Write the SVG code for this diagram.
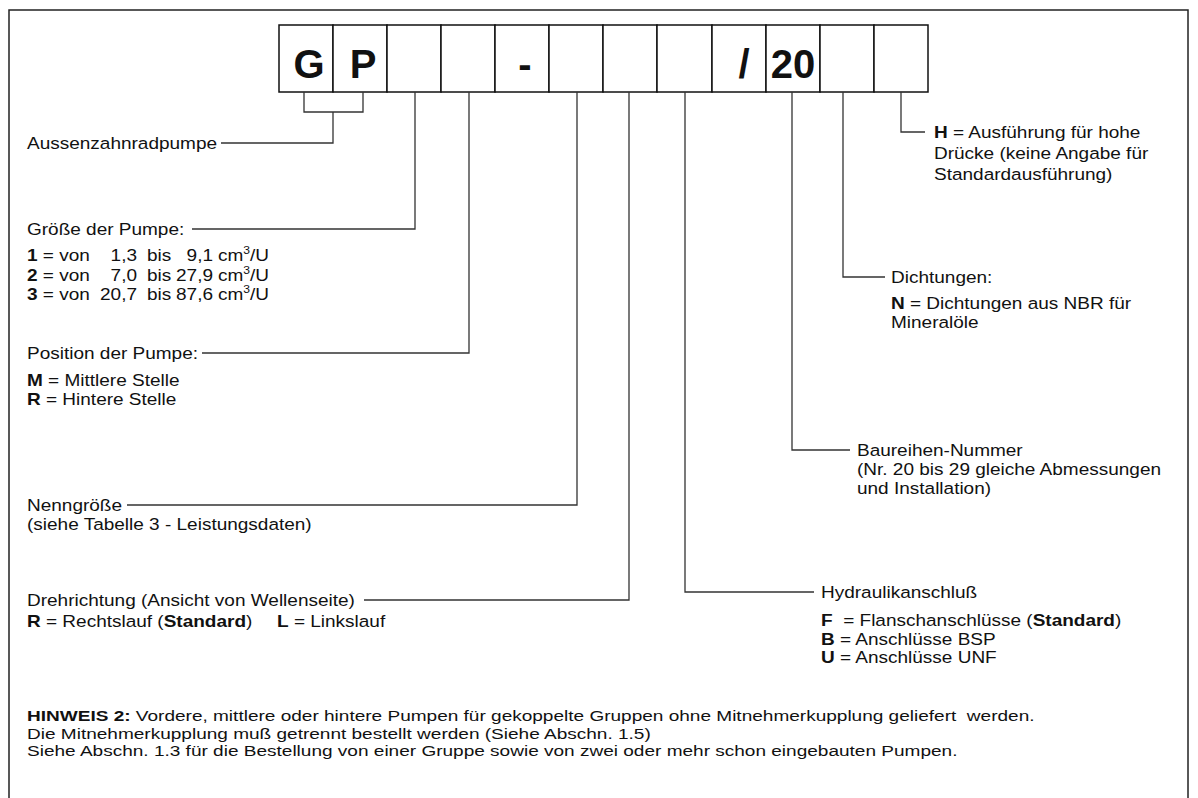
<svg xmlns="http://www.w3.org/2000/svg" width="1198" height="798" viewBox="0 0 1198 798">
<style>
  text { font-family: "Liberation Sans", Arial, sans-serif; font-size: 16.5px; fill: #111; }
  .b { font-weight: bold; }
  .big { font-size: 40px; font-weight: bold; text-anchor: middle; }
  .end { text-anchor: end; }
  .note { font-size: 15.5px; }
  .box { fill: #fff; stroke: #111; stroke-width: 1.5; }
  .ln { fill: none; stroke: #333; stroke-width: 1.3; }
  .frame { fill: #fff; stroke: #222; stroke-width: 1.5; }
  .sup { font-size: 10.5px; }
</style>
<rect class="frame" x="9" y="10" width="1179" height="800"/>

<g id="code">
  <rect class="box" x="279" y="25" width="54" height="67"/>
  <rect class="box" x="333" y="25" width="54" height="67"/>
  <rect class="box" x="387" y="25" width="54" height="67"/>
  <rect class="box" x="441" y="25" width="54" height="67"/>
  <rect class="box" x="495" y="25" width="54" height="67"/>
  <rect class="box" x="549" y="25" width="54" height="67"/>
  <rect class="box" x="603" y="25" width="54" height="67"/>
  <rect class="box" x="657" y="25" width="55" height="67"/>
  <rect class="box" x="712" y="25" width="54" height="67"/>
  <rect class="box" x="766" y="25" width="54" height="67"/>
  <rect class="box" x="820" y="25" width="54" height="67"/>
  <rect class="box" x="874" y="25" width="54" height="67"/>
  <text class="big" x="309" y="78">G</text>
  <text class="big" x="363" y="78">P</text>
  <text class="big" x="525" y="78">-</text>
  <text class="big" x="744" y="78">/</text>
  <text class="big" x="793" y="78">20</text>
</g>

<g id="connectors">
  <path class="ln" d="M304 92 V112 H363 V92"/>
  <path class="ln" d="M333 112 V143 H221"/>
  <path class="ln" d="M415 92 V229 H192"/>
  <path class="ln" d="M469 92 V353 H202"/>
  <path class="ln" d="M577 92 V505 H127"/>
  <path class="ln" d="M629 92 V600 H364"/>
  <path class="ln" d="M685 92 V592 H814"/>
  <path class="ln" d="M792 92 V450 H850"/>
  <path class="ln" d="M843 92 V277 H885"/>
  <path class="ln" d="M901 92 V132 H925"/>
</g>

<g id="aussenzahnradpumpe">
  <text transform="translate(27 149) scale(1.152 1)">Aussenzahnradpumpe</text>
</g>

<g id="groesse">
  <text transform="translate(27 235) scale(1.152 1)">Größe der Pumpe:</text>
  <text transform="translate(27 261) scale(1.152 1)"><tspan class="b">1</tspan> = von</text>
  <text class="end" transform="translate(137 261) scale(1.152 1)">1,3</text>
  <text transform="translate(147 261) scale(1.152 1)">bis</text>
  <text class="end" transform="translate(213 261) scale(1.152 1)">9,1</text>
  <text transform="translate(218 261) scale(1.152 1)">cm<tspan class="sup" dy="-7">3</tspan><tspan dy="7">/U</tspan></text>
  <text transform="translate(27 280.5) scale(1.152 1)"><tspan class="b">2</tspan> = von</text>
  <text class="end" transform="translate(137 280.5) scale(1.152 1)">7,0</text>
  <text transform="translate(147 280.5) scale(1.152 1)">bis</text>
  <text class="end" transform="translate(213 280.5) scale(1.152 1)">27,9</text>
  <text transform="translate(218 280.5) scale(1.152 1)">cm<tspan class="sup" dy="-7">3</tspan><tspan dy="7">/U</tspan></text>
  <text transform="translate(27 300) scale(1.152 1)"><tspan class="b">3</tspan> = von</text>
  <text class="end" transform="translate(137 300) scale(1.152 1)">20,7</text>
  <text transform="translate(147 300) scale(1.152 1)">bis</text>
  <text class="end" transform="translate(213 300) scale(1.152 1)">87,6</text>
  <text transform="translate(218 300) scale(1.152 1)">cm<tspan class="sup" dy="-7">3</tspan><tspan dy="7">/U</tspan></text>
</g>

<g id="position">
  <text transform="translate(27 359) scale(1.152 1)">Position der Pumpe:</text>
  <text transform="translate(27 386) scale(1.152 1)"><tspan class="b">M</tspan> = Mittlere Stelle</text>
  <text transform="translate(27 405) scale(1.152 1)"><tspan class="b">R</tspan> = Hintere Stelle</text>
</g>

<g id="nenngroesse">
  <text transform="translate(27 511) scale(1.152 1)">Nenngröße</text>
  <text transform="translate(27 530) scale(1.152 1)">(siehe Tabelle 3 - Leistungsdaten)</text>
</g>

<g id="drehrichtung">
  <text transform="translate(27 606) scale(1.152 1)">Drehrichtung (Ansicht von Wellenseite)</text>
  <text transform="translate(27 627) scale(1.152 1)"><tspan class="b">R</tspan> = Rechtslauf (<tspan class="b">Standard</tspan>)</text>
  <text transform="translate(277 627) scale(1.152 1)"><tspan class="b">L</tspan> = Linkslauf</text>
</g>

<g id="hydraulik">
  <text transform="translate(821 598) scale(1.152 1)">Hydraulikanschluß</text>
  <text transform="translate(821 626) scale(1.152 1)"><tspan class="b">F</tspan>&#160; = Flanschanschlüsse (<tspan class="b">Standard</tspan>)</text>
  <text transform="translate(821 644.5) scale(1.152 1)"><tspan class="b">B</tspan> = Anschlüsse BSP</text>
  <text transform="translate(821 663) scale(1.152 1)"><tspan class="b">U</tspan> = Anschlüsse UNF</text>
</g>

<g id="baureihe">
  <text transform="translate(857 456) scale(1.152 1)">Baureihen-Nummer</text>
  <text transform="translate(857 475) scale(1.152 1)">(Nr. 20 bis 29 gleiche Abmessungen</text>
  <text transform="translate(857 494) scale(1.152 1)">und Installation)</text>
</g>

<g id="dichtungen">
  <text transform="translate(891 283) scale(1.152 1)">Dichtungen:</text>
  <text transform="translate(891 309) scale(1.152 1)"><tspan class="b">N</tspan> = Dichtungen aus NBR für</text>
  <text transform="translate(891 328) scale(1.152 1)">Mineralöle</text>
</g>

<g id="hochdruck">
  <text transform="translate(934 138) scale(1.152 1)"><tspan class="b">H</tspan> = Ausführung für hohe</text>
  <text transform="translate(934 159) scale(1.152 1)">Drücke (keine Angabe für</text>
  <text transform="translate(934 180) scale(1.152 1)">Standardausführung)</text>
</g>

<g id="hinweis">
  <text class="note" transform="translate(27 721) scale(1.228 1)"><tspan class="b">HINWEIS 2:</tspan> Vordere, mittlere oder hintere Pumpen für gekoppelte Gruppen ohne Mitnehmerkupplung geliefert&#160; werden.</text>
  <text class="note" transform="translate(27 738.5) scale(1.228 1)">Die Mitnehmerkupplung muß getrennt bestellt werden (Siehe Abschn. 1.5)</text>
  <text class="note" transform="translate(27 756) scale(1.228 1)">Siehe Abschn. 1.3 für die Bestellung von einer Gruppe sowie von zwei oder mehr schon eingebauten Pumpen.</text>
</g>
</svg>
